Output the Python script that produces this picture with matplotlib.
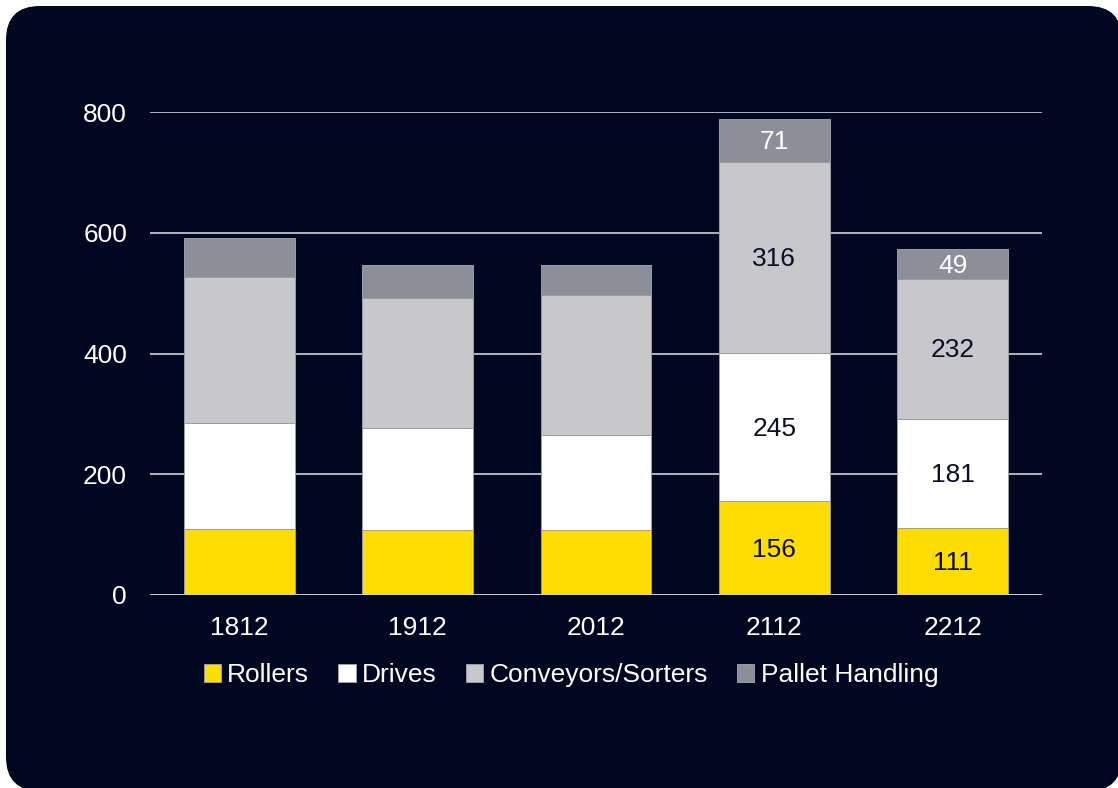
import matplotlib
matplotlib.use("Agg")
import matplotlib.pyplot as plt
from matplotlib.patches import FancyBboxPatch
import numpy as np

plt.rcParams['font.family'] = ['Liberation Sans', 'DejaVu Sans']

periods = ["1812", "1912", "2012", "2112", "2212"]
series = ["Rollers", "Drives", "Conveyors/Sorters", "Pallet Handling"]
rollers = [109, 108, 108, 156, 111]
drives = [176, 169, 157, 245, 181]
conveyors = [242, 215, 232, 316, 232]
pallet = [64, 55, 50, 71, 49]
labelled = [3, 4]  # only the last two periods carry value labels

colors = ["#FFDD00", "#FFFFFF", "#C8C8CA", "#8C8F97"]
label_colors = ["#0a0e26", "#0a0e26", "#0a0e26", "#FFFFFF"]
bg = "#000720"
fs = 19

W, H = 1118, 788
fig = plt.figure(figsize=(W / 100, H / 100), dpi=100, facecolor="white")

# rounded dark panel behind everything
back = fig.add_axes([0, 0, 1, 1], zorder=-10)
back.set_xlim(0, W)
back.set_ylim(H, 0)
back.axis("off")
back.add_patch(FancyBboxPatch((6, 6), 1116, 785,
                              boxstyle="round,pad=0,rounding_size=34",
                              facecolor=bg, edgecolor="none"))

ax = fig.add_axes([150 / W, 1 - 595 / H, (1042 - 150) / W, (595 - 112) / H])
ax.set_facecolor("none")

x = np.arange(len(periods))
data = [rollers, drives, conveyors, pallet]
bottom = np.zeros(len(periods))
for vals, name, col, lc in zip(data, series, colors, label_colors):
    vals = np.array(vals, dtype=float)
    ax.bar(x, vals, 0.62, bottom=bottom, color=col, edgecolor="#9a9ca6",
           linewidth=0.7, label=name, zorder=3)
    for i in labelled:
        ax.text(x[i], bottom[i] + vals[i] / 2 - 3, str(int(vals[i])), ha="center",
                va="center", fontsize=fs, color=lc, zorder=4)
    bottom += vals

ax.set_xlim(-0.5, len(periods) - 0.5)
ax.set_ylim(0, 800)
ax.set_yticks([0, 200, 400, 600, 800])
ax.set_xticks(x)
ax.set_xticklabels(periods)
ax.tick_params(colors="white", labelsize=fs, length=0)
ax.tick_params(axis="y", pad=16.5)
ax.tick_params(axis="x", pad=15)
ax.grid(axis="y", color="#d0d0d4", linewidth=1.2, zorder=0)
for s in ax.spines.values():
    s.set_visible(False)
ax.axhline(0, color="#d0d0d4", linewidth=1.2, zorder=5)

leg = ax.legend(loc="center", bbox_to_anchor=(0.472, -0.166), ncol=4,
                frameon=False, fontsize=fs, handlelength=0.65,
                handleheight=0.65, handletextpad=0.25, columnspacing=1.1,
                labelcolor="white")

fig.savefig("out.png", dpi=100, facecolor="white")
